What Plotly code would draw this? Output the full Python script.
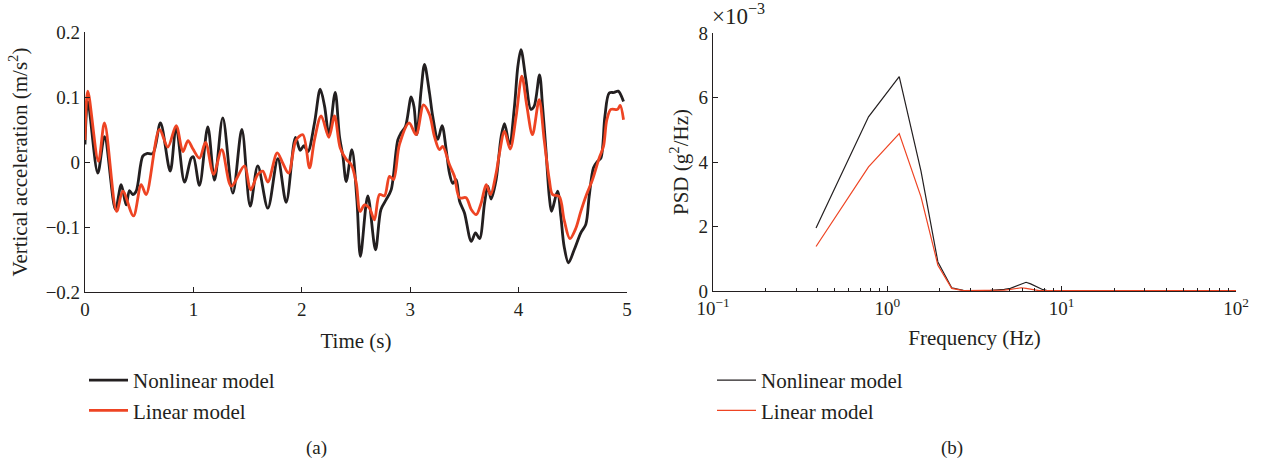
import plotly.graph_objects as go

# ---------------- data: (a) vertical acceleration time history ----------------
t_nonlinear = [0, 0.026, 0.118, 0.18, 0.281, 0.334, 0.38, 0.41, 0.44, 0.472, 0.533, 0.57, 0.626,
               0.696, 0.786, 0.841, 0.918, 0.98, 1.0, 1.056, 1.133, 1.195, 1.271, 1.364, 1.447,
               1.524, 1.594, 1.687, 1.779, 1.856, 1.942, 1.985, 2.02, 2.056, 2.117, 2.17, 2.21,
               2.25, 2.308, 2.348, 2.379, 2.41, 2.462, 2.508, 2.541, 2.609, 2.68, 2.73, 2.778,
               2.824, 2.886, 2.917, 2.957, 3.009, 3.035, 3.061, 3.101, 3.132, 3.178, 3.208,
               3.255, 3.294, 3.332, 3.362, 3.393, 3.424, 3.455, 3.5, 3.563, 3.603, 3.64, 3.686,
               3.716, 3.747, 3.793, 3.839, 3.87, 3.916, 3.962, 3.993, 4.022, 4.067, 4.113,
               4.144, 4.193, 4.221, 4.252, 4.283, 4.304, 4.359, 4.39, 4.42, 4.46, 4.513, 4.574,
               4.62, 4.651, 4.691, 4.728, 4.759, 4.796, 4.836, 4.882, 4.919, 4.968]
acc_nonlinear = [0.027, 0.093, -0.017, 0.039, -0.073, -0.035, -0.066, -0.044, -0.05, -0.045, 0.009,
                 0.013, 0.013, 0.06, -0.014, 0.054, -0.031, 0.006, 0.008, -0.036, 0.054, -0.028,
                 0.068, -0.048, 0.05, -0.068, -0.006, -0.071, 0.005, -0.062, 0.038, 0.018, 0.025,
                 0.016, 0.06, 0.112, 0.086, 0.042, 0.107, 0.039, 0.009, -0.03, 0.019, -0.058,
                 -0.145, -0.052, -0.135, -0.073, -0.058, -0.043, 0.034, 0.045, 0.055, 0.1, 0.085,
                 0.042, 0.111, 0.15, 0.106, 0.07, 0.035, 0.056, 0.019, -0.017, -0.033, -0.027,
                 -0.06, -0.078, -0.122, -0.109, -0.118, -0.063, -0.037, -0.057, -0.027, 0.039,
                 0.059, 0.027, 0.086, 0.147, 0.173, 0.127, 0.081, 0.086, 0.134, 0.086, 0.019,
                 -0.053, -0.076, -0.045, -0.084, -0.13, -0.155, -0.135, -0.109, -0.096, -0.053,
                 -0.009, 0.001, 0.006, 0.07, 0.106, 0.107, 0.109, 0.093]

t_linear = [0, 0.026, 0.124, 0.18, 0.292, 0.349, 0.447, 0.518, 0.564, 0.687, 0.764, 0.841, 0.903,
            0.95, 0.996, 1.056, 1.112, 1.186, 1.262, 1.349, 1.471, 1.527, 1.594, 1.64, 1.687,
            1.773, 1.825, 1.878, 1.948, 2.01, 2.071, 2.117, 2.179, 2.25, 2.302, 2.354, 2.41,
            2.456, 2.502, 2.538, 2.578, 2.624, 2.67, 2.717, 2.763, 2.809, 2.846, 2.901, 2.99,
            3.055, 3.123, 3.178, 3.224, 3.27, 3.3, 3.362, 3.408, 3.455, 3.516, 3.563, 3.609,
            3.655, 3.701, 3.741, 3.793, 3.824, 3.87, 3.922, 3.977, 4.03, 4.076, 4.128, 4.19,
            4.236, 4.283, 4.313, 4.375, 4.42, 4.473, 4.528, 4.574, 4.62, 4.682, 4.743, 4.783,
            4.814, 4.851, 4.913, 4.937, 4.968]
acc_linear = [0.034, 0.109, 0.001, 0.06, -0.076, -0.045, -0.083, -0.035, -0.05, 0.05, 0.023, 0.056,
              0.016, 0.033, 0.02, 0.006, 0.03, -0.019, 0.019, -0.037, -0.006, -0.043, -0.019,
              -0.014, -0.031, 0.014, -0.002, -0.017, 0.034, 0.042, -0.009, 0.034, 0.071, 0.038,
              0.071, 0.022, 0.004, -0.004, -0.032, -0.076, -0.066, -0.071, -0.089, -0.05, -0.052,
              -0.022, -0.027, 0.027, 0.06, 0.042, 0.088, 0.073, 0.039, 0.019, 0.024, -0.004,
              -0.022, -0.055, -0.055, -0.073, -0.081, -0.063, -0.035, -0.05, -0.017, 0.014,
              0.047, 0.02, 0.07, 0.132, 0.086, 0.042, 0.096, 0.034, -0.027, -0.05, -0.053, -0.089,
              -0.118, -0.102, -0.076, -0.053, -0.027, 0.006, 0.024, 0.065, 0.081, 0.081, 0.087,
              0.065]

# ---------------- data: (b) PSD (units of 1e-3 g^2/Hz) ----------------
freq_hz = [0.39, 0.78, 1.17, 1.56, 1.95, 2.34, 2.73, 3.13, 3.52, 3.91, 4.30, 4.69, 5.08, 5.47,
           5.86, 6.25, 6.64, 7.03, 7.42, 7.81, 8.20, 8.59, 9.77, 20.0, 50.0, 100.0]
psd_nonlinear_e3 = [1.95, 5.4, 6.65, 3.72, 0.9, 0.1, 0.02, 0.01, 0.01, 0.02, 0.03, 0.05, 0.08, 0.14,
                    0.21, 0.27, 0.22, 0.15, 0.08, 0.04, 0.02, 0.01, 0.01, 0.01, 0.01, 0.01]
psd_linear_e3 = [1.38, 3.85, 4.88, 2.92, 0.8, 0.08, 0.01, 0.01, 0.01, 0.01, 0.02, 0.03, 0.05, 0.08,
                 0.1, 0.08, 0.05, 0.02, 0.01, 0.01, 0.01, 0.01, 0.01, 0.01, 0.01, 0.01]

series_names = ["Nonlinear model", "Linear model"]
x_ticks_a = [0, 1, 2, 3, 4, 5]
y_ticks_a = [-0.2, -0.1, 0, 0.1, 0.2]
y_ticklabels_a = ["\u22120.2", "\u22120.1", "0", "0.1", "0.2"]
x_ticks_b = [0.1, 1, 10, 100]
x_ticklabels_b = ["10<sup>\u22121</sup>", "10<sup>0</sup>", "10<sup>1</sup>", "10<sup>2</sup>"]
y_ticks_b = [0, 2, 4, 6, 8]

BLACK = "#231f20"
RED = "#ee4423"
FONT = "Liberation Serif"
W, H = 1263, 461
TICK_SIZE = 19
TITLE_SIZE = 21
LEGEND_SIZE = 21

fig = go.Figure()
fig.add_trace(go.Scatter(x=t_nonlinear, y=acc_nonlinear, mode="lines", name=series_names[0],
                         line=dict(color=BLACK, width=2.8, shape="spline", smoothing=0.9),
                         xaxis="x", yaxis="y", legend="legend"))
fig.add_trace(go.Scatter(x=t_linear, y=acc_linear, mode="lines", name=series_names[1],
                         line=dict(color=RED, width=2.8, shape="spline", smoothing=0.9),
                         xaxis="x", yaxis="y", legend="legend"))
fig.add_trace(go.Scatter(x=freq_hz, y=psd_nonlinear_e3, mode="lines", name=series_names[0],
                         line=dict(color=BLACK, width=1.2),
                         xaxis="x2", yaxis="y2", legend="legend2"))
fig.add_trace(go.Scatter(x=freq_hz, y=psd_linear_e3, mode="lines", name=series_names[1],
                         line=dict(color=RED, width=1.2),
                         xaxis="x2", yaxis="y2", legend="legend2"))

axis_common = dict(showline=True, linecolor=BLACK, linewidth=1.2, ticks="inside", ticklen=5,
                   tickcolor=BLACK, tickwidth=1, showgrid=False, zeroline=False,
                   automargin=False,
                   tickfont=dict(family=FONT, size=TICK_SIZE, color=BLACK),
                   title_font=dict(family=FONT, size=TITLE_SIZE, color=BLACK), mirror=False)

legend_common = dict(xanchor="left", yanchor="top", itemwidth=39, tracegroupgap=0,
                     font=dict(family=FONT, size=LEGEND_SIZE, color=BLACK),
                     bgcolor="rgba(0,0,0,0)")

fig.update_layout(
    width=W, height=H,
    margin=dict(l=0, r=0, t=0, b=0, autoexpand=False),
    paper_bgcolor="white", plot_bgcolor="white",
    font=dict(family=FONT, size=TICK_SIZE, color=BLACK),
    xaxis=dict(axis_common, domain=[85 / W, 627 / W], range=[0, 5], tickvals=x_ticks_a,
               anchor="y", title=dict(text="Time (s)", standoff=14)),
    yaxis=dict(axis_common, domain=[(H - 292) / H, (H - 32) / H], range=[-0.2, 0.2],
               tickvals=y_ticks_a, ticktext=y_ticklabels_a, anchor="x",
               title=dict(text="Vertical acceleration (m/s<sup>2</sup>)", standoff=12)),
    xaxis2=dict(axis_common, type="log", domain=[713 / W, 1236 / W], range=[-1, 2],
                tickvals=x_ticks_b, ticktext=x_ticklabels_b, anchor="y2",
                minor=dict(ticks="inside", ticklen=3, tickcolor=BLACK, dtick="D1", showgrid=False),
                title=dict(text="Frequency (Hz)", standoff=12)),
    yaxis2=dict(axis_common, domain=[(H - 291) / H, (H - 33) / H], range=[0, 8],
                tickvals=y_ticks_b, anchor="x2",
                title=dict(text="PSD (g<sup>2</sup>/Hz)", standoff=4)),
    legend=dict(legend_common, x=84 / W, y=1 - 360 / H),
    legend2=dict(legend_common, x=712 / W, y=1 - 360 / H),
    annotations=[
        dict(text="(a)", x=316 / W, y=1 - 448 / H, xref="paper", yref="paper", showarrow=False,
             xanchor="center", yanchor="middle",
             font=dict(family=FONT, size=TICK_SIZE, color=BLACK)),
        dict(text="(b)", x=952 / W, y=1 - 448 / H, xref="paper", yref="paper", showarrow=False,
             xanchor="center", yanchor="middle",
             font=dict(family=FONT, size=TICK_SIZE, color=BLACK)),
        dict(text="\u00d710<sup>\u22123</sup>", x=710 / W, y=1 - 15 / H, xref="paper", yref="paper",
             xanchor="left", yanchor="middle", showarrow=False,
             font=dict(family=FONT, size=23, color=BLACK)),
    ],
)

fig.write_html("out.html")
